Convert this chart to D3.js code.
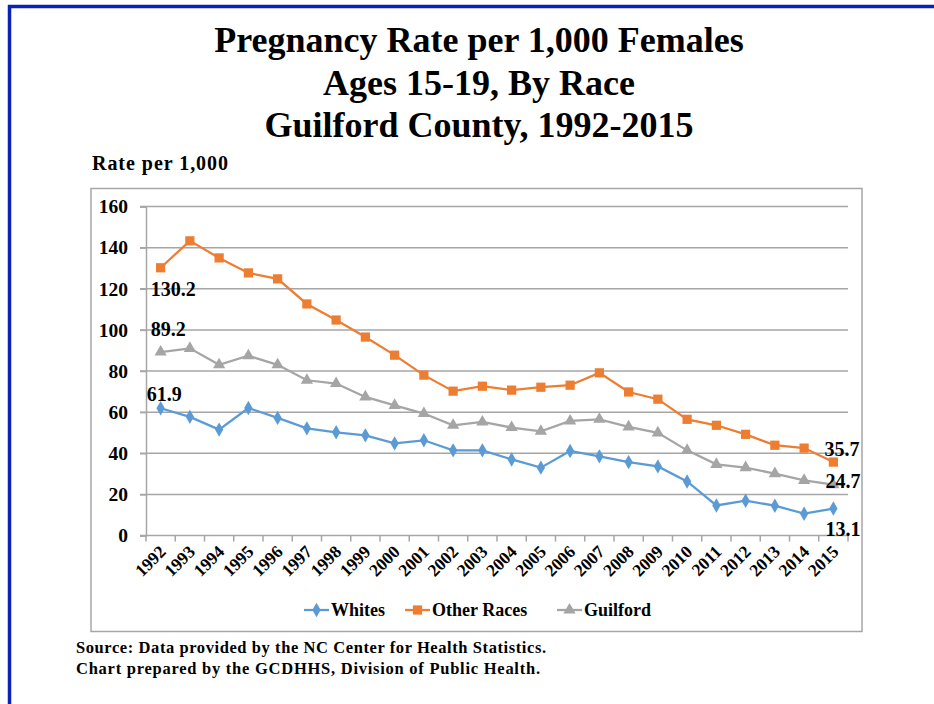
<!DOCTYPE html>
<html>
<head>
<meta charset="utf-8">
<script src="https://cdn.jsdelivr.net/npm/d3@7"></script>
<style>
  body { margin: 0; background: #fff; }
  svg { display: block; }
</style>
</head>
<body>
<div id="chart"></div>
<script>
// Teen pregnancy rate by race - Guilford County

const years = ["1992","1993","1994","1995","1996","1997","1998","1999","2000","2001","2002","2003",
               "2004","2005","2006","2007","2008","2009","2010","2011","2012","2013","2014","2015"];

const whites = [61.9, 57.7, 51.5, 62.0, 57.2, 52.1, 50.2, 48.7, 44.8, 46.3, 41.4, 41.4,
                37.0, 33.0, 41.1, 38.5, 35.7, 33.6, 26.3, 14.6, 16.9, 14.5, 10.6, 13.1];
const otherRaces = [130.2, 143.3, 135.0, 127.7, 124.8, 112.6, 104.8, 96.5, 87.7, 78.0, 70.2, 72.6,
                    70.7, 72.1, 73.1, 79.1, 69.8, 66.3, 56.5, 53.6, 49.2, 43.9, 42.5, 35.7];
const guilford = [89.2, 91.0, 83.0, 87.4, 83.0, 75.5, 73.9, 67.4, 63.3, 59.3, 53.6, 55.2,
                  52.5, 50.7, 55.7, 56.5, 52.8, 49.9, 41.4, 34.6, 33.0, 30.1, 26.8, 24.7];

const yTicks = [0, 20, 40, 60, 80, 100, 120, 140, 160];

const seriesNames = ["Whites", "Other Races", "Guilford"];

const width = 934;
const height = 704;

const series = [
  { name: seriesNames[0], values: whites, color: "#5b9bd5", shape: "diamond" },
  { name: seriesNames[1], values: otherRaces, color: "#ed7d31", shape: "square" },
  { name: seriesNames[2], values: guilford, color: "#a5a5a5", shape: "triangle" }
];

const svg = d3.select("#chart")
  .append("svg")
  .attr("width", width)
  .attr("height", height);

// blue slide border
svg.append("line")
  .attr("x1", 8).attr("x2", width).attr("y1", 6.5).attr("y2", 6.5)
  .attr("stroke", "#0a22b8").attr("stroke-width", 3.5);
svg.append("line")
  .attr("x1", 9.5).attr("x2", 9.5).attr("y1", 5).attr("y2", height)
  .attr("stroke", "#0a22b8").attr("stroke-width", 3.5);

// title
const titleLines = ["Pregnancy Rate per 1,000 Females", "Ages 15-19, By Race", "Guilford County, 1992-2015"];
svg.append("g")
  .selectAll("text")
  .data(titleLines)
  .join("text")
  .attr("x", 479)
  .attr("y", (d, i) => 52 + i * 42.5)
  .attr("text-anchor", "middle")
  .style("font-family", "'Liberation Serif', 'Times New Roman', serif")
  .style("font-weight", "bold")
  .style("font-size", "36px")
  .text(d => d);

svg.append("text")
  .attr("x", 92).attr("y", 170)
  .style("font-family", "'Liberation Serif', serif")
  .style("font-weight", "bold")
  .style("font-size", "20px")
  .attr("textLength", 136)
  .text("Rate per 1,000");

// chart frame
svg.append("rect")
  .attr("x", 91).attr("y", 188.5)
  .attr("width", 771).attr("height", 443)
  .attr("fill", "none")
  .attr("stroke", "#a6a6a6")
  .attr("stroke-width", 1.5);

const margin = { left: 146, right: 848, top: 206.5, bottom: 535.5 };

const x = d3.scaleBand()
  .domain(years)
  .range([margin.left, margin.right]);

const y = d3.scaleLinear()
  .domain([0, 160])
  .range([margin.bottom, margin.top]);

// gridlines
svg.append("g")
  .selectAll("line")
  .data(yTicks.filter(d => d > 0))
  .join("line")
  .attr("x1", margin.left - 6).attr("x2", margin.right)
  .attr("y1", d => y(d)).attr("y2", d => y(d))
  .attr("stroke", "#a6a6a6")
  .attr("stroke-width", 1.5);

// y axis
const yAxis = svg.append("g")
  .attr("transform", `translate(${margin.left},0)`)
  .call(d3.axisLeft(y).tickValues(yTicks).tickSize(6).tickPadding(12));
yAxis.select(".domain").attr("stroke", "#a6a6a6").attr("stroke-width", 1.5);
yAxis.selectAll(".tick line").attr("stroke", "#a6a6a6").attr("stroke-width", 1.5);
yAxis.selectAll("text")
  .style("font-family", "'Liberation Serif', serif")
  .style("font-weight", "bold")
  .style("font-size", "19.5px")
  .attr("fill", "#000");

// x axis with ticks between categories
const xAxis = svg.append("g")
  .attr("transform", `translate(0,${margin.bottom})`);
xAxis.append("line")
  .attr("x1", margin.left - 6).attr("x2", margin.right)
  .attr("stroke", "#a6a6a6").attr("stroke-width", 1.5);
xAxis.selectAll(".sep")
  .data(years)
  .join("line")
  .attr("class", "sep")
  .attr("x1", d => x(d) + x.bandwidth()).attr("x2", d => x(d) + x.bandwidth())
  .attr("y1", 0).attr("y2", 6)
  .attr("stroke", "#a6a6a6").attr("stroke-width", 1.5);
xAxis.append("line")
  .attr("x1", margin.left).attr("x2", margin.left)
  .attr("y1", 0).attr("y2", 6)
  .attr("stroke", "#a6a6a6").attr("stroke-width", 1.5);
xAxis.selectAll(".yr")
  .data(years)
  .join("text")
  .attr("class", "yr")
  .attr("transform", d => `translate(${x(d) + x.bandwidth() / 2 + 2},13) rotate(-45)`)
  .attr("text-anchor", "end")
  .attr("dy", "0.35em")
  .style("font-family", "'Liberation Serif', serif")
  .style("font-weight", "bold")
  .style("font-size", "17.5px")
  .text(d => d);

// lines and markers
const line = d3.line()
  .x((d, i) => x(years[i]) + x.bandwidth() / 2)
  .y(d => y(d));

const symbolFor = {
  diamond: d3.symbol().type(d3.symbolDiamond).size(60),
  square: d3.symbol().type(d3.symbolSquare).size(85),
  triangle: d3.symbol().type(d3.symbolTriangle).size(65)
};

series.forEach(s => {
  svg.append("path")
    .datum(s.values)
    .attr("d", line)
    .attr("fill", "none")
    .attr("stroke", s.color)
    .attr("stroke-width", 2.25);

  svg.append("g")
    .selectAll("path")
    .data(s.values)
    .join("path")
    .attr("transform", (d, i) => `translate(${x(years[i]) + x.bandwidth() / 2},${y(d)})`)
    .attr("d", symbolFor[s.shape]())
    .attr("fill", s.color);
});

// data labels at first and last points
const labels = [
  { s: 1, i: 0, dx: -10, dy: 28 },
  { s: 2, i: 0, dx: -10, dy: -16 },
  { s: 0, i: 0, dx: -14, dy: -7 },
  { s: 1, i: 23, dx: -9, dy: -6 },
  { s: 2, i: 23, dx: -8, dy: 3 },
  { s: 0, i: 23, dx: -8, dy: 27 }
];
svg.append("g")
  .selectAll("text")
  .data(labels)
  .join("text")
  .attr("x", d => x(years[d.i]) + x.bandwidth() / 2 + d.dx)
  .attr("y", d => y(series[d.s].values[d.i]) + d.dy)
  .style("font-family", "'Liberation Serif', serif")
  .style("font-weight", "bold")
  .style("font-size", "20px")
  .text(d => series[d.s].values[d.i].toFixed(1));

// legend
const legendX = [304, 405, 557];
const legend = svg.append("g")
  .selectAll("g")
  .data(series)
  .join("g")
  .attr("transform", (d, i) => `translate(${legendX[i]},610)`);
legend.append("line")
  .attr("x1", 0).attr("x2", 25)
  .attr("stroke", d => d.color).attr("stroke-width", 2.25);
legend.append("path")
  .attr("transform", "translate(12.5,0)")
  .attr("d", d => symbolFor[d.shape]())
  .attr("fill", d => d.color);
legend.append("text")
  .attr("x", 27).attr("dy", "0.35em")
  .style("font-family", "'Liberation Serif', serif")
  .style("font-weight", "bold")
  .style("font-size", "18px")
  .text(d => d.name);

// source note
const notes = ["Source: Data provided by the NC Center for Health Statistics.",
               "Chart prepared by the GCDHHS, Division of Public Health."];
const noteLen = [470, 464];
svg.append("g")
  .selectAll("text")
  .data(notes)
  .join("text")
  .attr("x", 76)
  .attr("y", (d, i) => 653 + i * 21)
  .attr("textLength", (d, i) => noteLen[i])
  .style("font-family", "'Liberation Serif', serif")
  .style("font-weight", "bold")
  .style("font-size", "16.5px")
  .text(d => d);
</script>
</body>
</html>
